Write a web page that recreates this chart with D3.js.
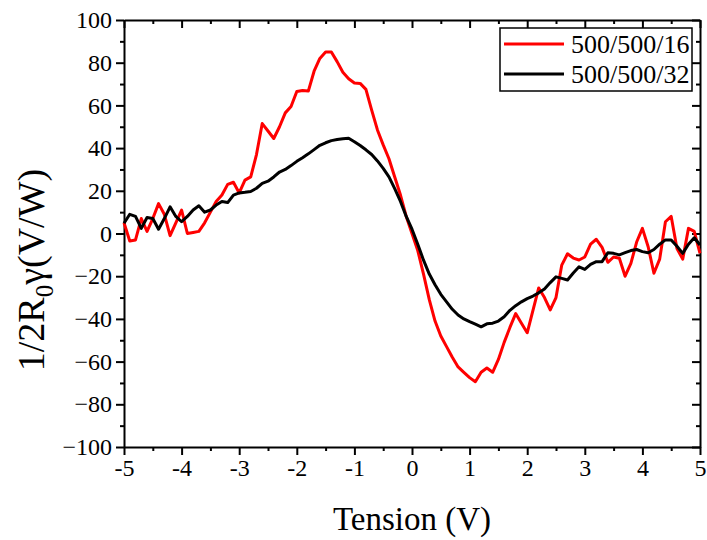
<!DOCTYPE html>
<html lang="en">
<head>
  <meta charset="UTF-8">
  <title>Tension chart</title>
  <script src="https://d3js.org/d3.v7.min.js"></script>
  <style>
    body { margin: 0; background: #fff; }
    text { font-family: "Liberation Serif", "Times New Roman", serif; fill: #000; }
  </style>
</head>
<body>
  <svg id="chart" width="707" height="540"></svg>
  <script>
    // tension values, -5 .. 5 V in 0.1 steps
    let tension = d3.range(101).map(function (i) { return -5 + i * 0.1; });

    let red16 = [5, -3.5, -3, 7, 1, 7, 14, 9, -1, 5, 11, 0, 0.5, 1, 5, 10, 15, 18, 23, 24,
      19, 25, 26.5, 37, 51.5, 48, 44.5, 50, 56.5, 59.5, 66.5, 67, 66.7, 76, 82, 85, 85, 80.5, 75.5, 72.5,
      70.5, 70.3, 67.5, 57.8, 48.5, 41.5, 35, 26.5, 18, 8, 0, -8, -19, -31, -41, -48, -53, -58, -62.5, -65,
      -67.5, -69.4, -65, -63, -65, -59, -51, -44, -37.5, -42, -46.5, -36, -25.5, -30, -35.8, -30, -14.8, -9.5, -11.5, -12.4,
      -11, -5, -2.7, -6.5, -13.5, -11, -11.6, -20, -14, -4, 2.4, -6.2, -18.6, -12, 5.5, 8, -7, -12, 2.4, 1, -9.3];

    let black32 = [4.8, 9, 8, 2.4, 7.5, 7, 2, 7, 12.5, 8, 5.5, 8, 11, 13, 10, 11, 13.3, 15, 14.5, 18,
      19, 19.3, 19.7, 21.2, 23.5, 24.5, 26.5, 28.8, 30, 31.8, 33.8, 35.5, 37.3, 39.3, 41.3, 42.5, 43.5, 44, 44.4, 44.6,
      43, 41.2, 39.2, 37, 34, 30.5, 26.5, 21, 15, 8, 2, -5, -12.5, -19, -24, -28.5, -32, -35.5, -38.2, -40,
      -41.3, -42.5, -43.7, -42.3, -42, -41, -39, -36, -33.8, -32, -30.5, -29.3, -27.8, -26, -23, -20.3, -21, -21.8, -18.5, -15.6,
      -16.8, -14.5, -13.2, -13.2, -9, -9.3, -10, -9, -8, -7.5, -8.5, -9, -7.5, -5, -3, -3, -6, -9.3, -5, -2, -5.4];

    let seriesNames = ['500/500/16', '500/500/32'];
    let seriesColors = ['#ff0000', '#000000'];
    let xTicks = [-5, -4, -3, -2, -1, 0, 1, 2, 3, 4, 5];
    let yTicks = [-100, -80, -60, -40, -20, 0, 20, 40, 60, 80, 100];

    let mLeft = 124, mRight = 700, mTop = 20, mBottom = 447;
    let svg = d3.select('#chart');

    let x = d3.scaleLinear().domain([-5, 5]).range([mLeft, mRight]);
    let y = d3.scaleLinear().domain([-100, 100]).range([mBottom, mTop]);

    let xMinor = d3.range(-45, 50, 10).map(function (d) { return d / 10; });
    let yMinor = d3.range(-90, 100, 20);

    function styleAxis(g) {
      g.selectAll('path, line').attr('stroke', '#000').attr('stroke-width', 2);
      g.selectAll('text').attr('font-size', 24).attr('font-family', '"Liberation Serif", serif');
    }

    // bottom axis (outward ticks)
    svg.append('g').attr('transform', 'translate(0,' + mBottom + ')')
      .call(d3.axisBottom(x).tickValues(xTicks).tickSize(8).tickSizeOuter(0).tickPadding(4)
        .tickFormat(function (d) { return d; }))
      .call(styleAxis);
    svg.append('g').attr('transform', 'translate(0,' + mBottom + ')')
      .call(d3.axisBottom(x).tickValues(xMinor).tickSize(4).tickFormat(''))
      .call(styleAxis).select('.domain').remove();

    // left axis
    svg.append('g').attr('transform', 'translate(' + mLeft + ',0)')
      .call(d3.axisLeft(y).tickValues(yTicks).tickSize(8).tickSizeOuter(0).tickPadding(4))
      .call(styleAxis);
    svg.append('g').attr('transform', 'translate(' + mLeft + ',0)')
      .call(d3.axisLeft(y).tickValues(yMinor).tickSize(4).tickFormat(''))
      .call(styleAxis).select('.domain').remove();

    // top and right mirror axes, ticks inward
    svg.append('g').attr('transform', 'translate(0,' + mTop + ')')
      .call(d3.axisTop(x).tickValues(xTicks).tickSize(-8).tickSizeOuter(0).tickFormat(''))
      .call(styleAxis);
    svg.append('g').attr('transform', 'translate(0,' + mTop + ')')
      .call(d3.axisTop(x).tickValues(xMinor).tickSize(-4).tickFormat(''))
      .call(styleAxis).select('.domain').remove();
    svg.append('g').attr('transform', 'translate(' + mRight + ',0)')
      .call(d3.axisRight(y).tickValues(yTicks).tickSize(-8).tickSizeOuter(0).tickFormat(''))
      .call(styleAxis);
    svg.append('g').attr('transform', 'translate(' + mRight + ',0)')
      .call(d3.axisRight(y).tickValues(yMinor).tickSize(-4).tickFormat(''))
      .call(styleAxis).select('.domain').remove();

    // curves
    let line = d3.line()
      .x(function (d, i) { return x(tension[i]); })
      .y(function (d) { return y(d); });

    [red16, black32].forEach(function (vals, k) {
      svg.append('path')
        .datum(vals)
        .attr('d', line)
        .attr('fill', 'none')
        .attr('stroke', seriesColors[k])
        .attr('stroke-width', 3)
        .attr('stroke-linejoin', 'round');
    });

    // legend
    let lg = svg.append('g');
    lg.append('rect').attr('x', 500).attr('y', 28).attr('width', 192).attr('height', 63)
      .attr('fill', '#fff').attr('stroke', '#000').attr('stroke-width', 1.5);
    seriesNames.forEach(function (name, k) {
      let yy = 44 + k * 30;
      lg.append('line').attr('x1', 504).attr('x2', 564).attr('y1', yy).attr('y2', yy)
        .attr('stroke', seriesColors[k]).attr('stroke-width', 3);
      lg.append('text').attr('x', 571).attr('y', yy + 9).attr('font-size', 26).text(name);
    });

    // axis titles
    svg.append('text').attr('x', (mLeft + mRight) / 2).attr('y', 530)
      .attr('text-anchor', 'middle').attr('font-size', 33).text('Tension (V)');

    let yt = svg.append('text')
      .attr('transform', 'translate(44,270) rotate(-90)')
      .attr('text-anchor', 'middle').attr('font-size', 38);
    yt.append('tspan').text('1/2R');
    yt.append('tspan').attr('font-size', 25).attr('dy', 9).text('0');
    yt.append('tspan').attr('dy', -9).text('γ(V/W)');
  </script>
</body>
</html>
